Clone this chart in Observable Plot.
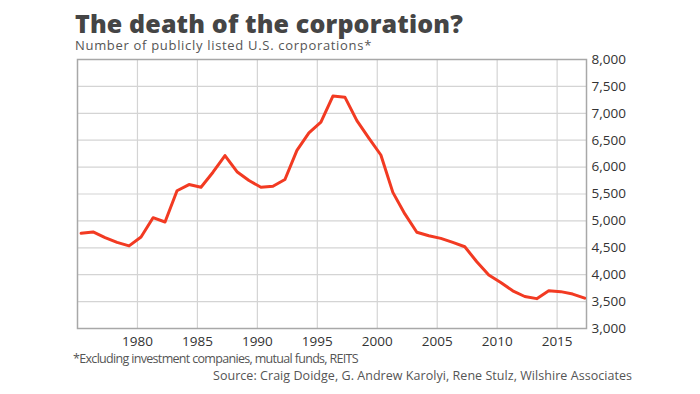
<!DOCTYPE html>
<html>
<head>
<meta charset="utf-8">
<script src="https://cdn.jsdelivr.net/npm/d3@7"></script>
<script src="https://cdn.jsdelivr.net/npm/@observablehq/plot@0.6"></script>
<style>
  html, body { margin: 0; padding: 0; background: #fff; }
  #wrap { position: relative; width: 700px; height: 394px; overflow: hidden; font-family: "Open Sans", "Noto Sans", sans-serif; }
  .txt { position: absolute; white-space: nowrap; line-height: 1; }
  #title { left: 75px; top: 11px; font-size: 25px; font-weight: 800; color: #454545; }
  #subtitle { left: 75px; top: 38.5px; font-size: 13px; color: #555; }
  #note { left: 73px; top: 353px; font-size: 12.5px; color: #555; }
  #source { right: 68px; top: 370px; font-size: 12.5px; color: #555; }
  #chart { position: absolute; left: 0; top: 0; }
</style>
</head>
<body>
<div id="wrap">
  <div id="chart"></div>
  <div class="txt" id="title" data-w="388">The death of the corporation?</div>
  <div class="txt" id="subtitle" data-w="297">Number of publicly listed U.S. corporations*</div>
  <div class="txt" id="note" data-w="285">*Excluding investment companies, mutual funds, REITS</div>
  <div class="txt" id="source" data-w="419">Source: Craig Doidge, G. Andrew Karolyi, Rene Stulz, Wilshire Associates</div>
</div>
<script>
const years = [1975,1976,1977,1978,1979,1980,1981,1982,1983,1984,1985,1986,1987,1988,1989,1990,1991,1992,1993,1994,1995,1996,1997,1998,1999,2000,2001,2002,2003,2004,2005,2006,2007,2008,2009,2010,2011,2012,2013,2014,2015,2016,2017];
const counts = [4770,4795,4690,4600,4535,4700,5060,4980,5560,5675,5625,5905,6215,5915,5750,5625,5645,5770,6310,6635,6835,7320,7300,6865,6540,6225,5530,5130,4790,4725,4675,4600,4520,4240,3995,3855,3700,3595,3555,3700,3685,3640,3565];
const xTicks = [1980,1985,1990,1995,2000,2005,2010,2015];
const yTicks = [3000,3500,4000,4500,5000,5500,6000,6500,7000,7500,8000];

const data = years.map((year, i) => ({year, count: counts[i]}));

const chart = Plot.plot({
  width: 700,
  height: 394,
  marginTop: 59,
  marginBottom: 66,
  marginLeft: 77,
  marginRight: 114,
  style: { fontFamily: "'Open Sans', 'Noto Sans', sans-serif", fontSize: "13.5px", color: "#333", background: "transparent" },
  x: { domain: [1975, 2017.45], label: null },
  y: { domain: [3000, 8000], label: null },
  marks: [
    Plot.gridX(xTicks, { stroke: "#d4d4d4", strokeOpacity: 1, strokeWidth: 1.2 }),
    Plot.gridY(yTicks, { stroke: "#d4d4d4", strokeOpacity: 1, strokeWidth: 1.2 }),
    Plot.frame({ stroke: "#a8a8a8", strokeWidth: 1.5 }),
    Plot.lineY(data, { x: d => d.year + 0.3, y: "count", stroke: "#f23a22", strokeWidth: 3, strokeLinejoin: "round", clip: true }),
    Plot.axisX(xTicks, { tickSize: 0, tickPadding: 8, tickFormat: d => String(d), fill: "#333", fontSize: 13.5, fontWeight: 500 }),
    Plot.axisY(yTicks, { anchor: "right", tickSize: 0, tickPadding: 5, tickFormat: d3.format(","), fill: "#333", fontSize: 13.5, fontWeight: 500 })
  ]
});
document.getElementById("chart").appendChild(chart);

// fit text widths to the reference
document.querySelectorAll(".txt").forEach(el => {
  const target = +el.dataset.w;
  const w = el.getBoundingClientRect().width;
  const n = el.textContent.length;
  el.style.letterSpacing = ((target - w) / n) + "px";
});
</script>
</body>
</html>
